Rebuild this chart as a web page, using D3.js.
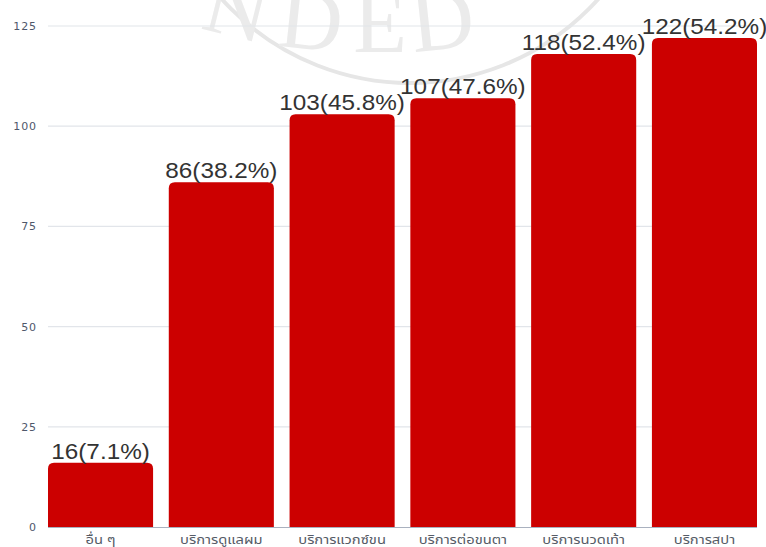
<!DOCTYPE html>
<html>
<head>
<meta charset="utf-8">
<script src="https://cdn.jsdelivr.net/npm/d3@7"></script>
<style>
  html, body { margin: 0; padding: 0; background: #ffffff; }
  svg { display: block; }
</style>
</head>
<body>
<svg id="chart" width="766" height="547"></svg>
<script>
// Services and respondent counts
const categories = ["อื่น ๆ", "บริการดูแลผม", "บริการแวกซ์ขน", "บริการต่อขนตา", "บริการนวดเท้า", "บริการสปา"];
const counts = [16, 86, 103, 107, 118, 122];
const percents = ["7.1%", "38.2%", "45.8%", "47.6%", "52.4%", "54.2%"];
const yTicks = [0, 25, 50, 75, 100, 125];

const svg = d3.select("#chart");

// Faint seal in the background
const seal = svg.append("g").attr("class", "seal");
seal.append("circle")
  .attr("cx", 410).attr("cy", -170).attr("r", 253)
  .attr("fill", "none").attr("stroke", "#e6e6e6").attr("stroke-width", 4);
const sealLetters = [
  { ch: "N", x: 230, y: 36, rot: 14 },
  { ch: "D", x: 308, y: 49, rot: 6 },
  { ch: "E", x: 380, y: 52, rot: 0 },
  { ch: "D", x: 445, y: 49, rot: -6 }
];
seal.selectAll("text").data(sealLetters).join("text")
  .attr("transform", d => `translate(${d.x},${d.y}) rotate(${d.rot})`)
  .attr("text-anchor", "middle")
  .attr("font-family", "'Liberation Serif', 'DejaVu Serif', serif")
  .attr("font-size", 88)
  .attr("fill", "#ebebeb")
  .text(d => d.ch);

const x = d3.scaleBand()
  .domain(categories)
  .range([48, 757])
  .paddingInner(0.13)
  .paddingOuter(0);

const y = d3.scaleLinear()
  .domain([0, 125])
  .range([527, 26]);

// Horizontal grid
svg.append("g").selectAll("line").data(yTicks.filter(t => t > 0)).join("line")
  .attr("x1", 48).attr("x2", 757)
  .attr("y1", d => y(d)).attr("y2", d => y(d))
  .attr("stroke", "#e2e5ea").attr("stroke-width", 1.2);

// Y axis labels
const yAxis = svg.append("g")
  .attr("transform", "translate(37,0)")
  .call(d3.axisLeft(y).tickValues(yTicks).tickSize(0).tickPadding(0));
yAxis.select(".domain").remove();
yAxis.selectAll("text")
  .attr("font-family", "'DejaVu Sans', sans-serif")
  .attr("font-size", 11)
  .attr("letter-spacing", 0.9)
  .attr("fill", "#4f586b");

// Bars with rounded tops
const r = 6;
function barPath(d, i) {
  const x0 = x(categories[i]), w = x.bandwidth();
  const y0 = y(d), yb = y(0);
  return `M${x0},${yb} L${x0},${y0 + r} Q${x0},${y0} ${x0 + r},${y0} ` +
         `L${x0 + w - r},${y0} Q${x0 + w},${y0} ${x0 + w},${y0 + r} L${x0 + w},${yb} Z`;
}
svg.append("g").selectAll("path").data(counts).join("path")
  .attr("d", barPath)
  .attr("fill", "#cc0000");

// Baseline
svg.append("line")
  .attr("x1", 48).attr("x2", 757)
  .attr("y1", y(0) + 0.5).attr("y2", y(0) + 0.5)
  .attr("stroke", "#a9b1bf").attr("stroke-width", 1);

// X axis labels
const xAxis = svg.append("g")
  .attr("transform", `translate(0,${y(0)})`)
  .call(d3.axisBottom(x).tickSize(0).tickPadding(8));
xAxis.select(".domain").remove();
xAxis.selectAll(".tick text")
  .attr("transform", "scale(1.18,1)")
  .attr("font-family", "'Noto Sans Thai', 'Noto Sans', 'DejaVu Sans', sans-serif")
  .attr("font-size", 12.5)
  .attr("fill", "#555b66");
// keep the stretched labels centred on their ticks
xAxis.selectAll(".tick text").attr("x", 0);

// Value labels
svg.append("g").selectAll("text").data(counts).join("text")
  .attr("transform", (d, i) => `translate(${x(categories[i]) + x.bandwidth() / 2},${y(d) - 4}) scale(1.08,1)`)
  .attr("text-anchor", "middle")
  .attr("font-family", "'Liberation Sans', Arial, sans-serif")
  .attr("font-size", 22.5)
  .attr("fill", "#333333")
  .text((d, i) => `${d}(${percents[i]})`);
</script>
</body>
</html>
